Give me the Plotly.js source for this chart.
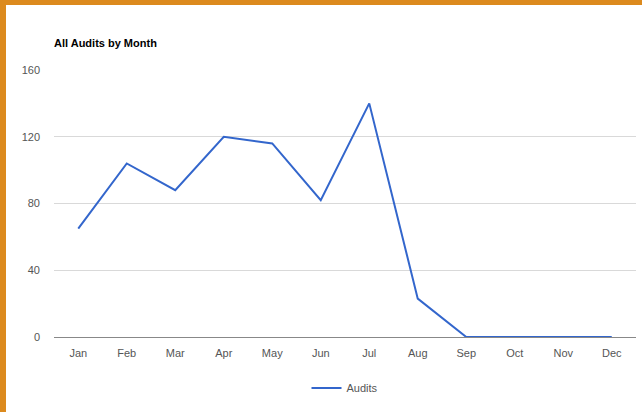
<!DOCTYPE html>
<html>
<head>
<meta charset="utf-8">
<script src="https://cdn.plot.ly/plotly-3.0.1.min.js"></script>
<style>
html,body{margin:0;padding:0;background:#fff;}
#wrap{position:relative;width:642px;height:412px;background:#fff;overflow:hidden;}
#bl{position:absolute;left:0;top:0;width:6px;height:412px;background:#dc8a1e;}
#bt{position:absolute;left:0;top:0;width:642px;height:5px;background:#dc8a1e;}
#chart{position:absolute;left:0;top:0;width:642px;height:412px;}
</style>
</head>
<body>
<div id="wrap">
<div id="chart"></div>
<div id="bl"></div>
<div id="bt"></div>
</div>
<script>
const months = ["Jan","Feb","Mar","Apr","May","Jun","Jul","Aug","Sep","Oct","Nov","Dec"];
const audits = [65, 104, 88, 120, 116, 82, 140, 23, 0, 0, 0, 0];
const yTicks = [0, 40, 80, 120, 160];

const trace = {
  x: months,
  y: audits,
  type: "scatter",
  mode: "lines",
  name: "Audits",
  line: {color: "#3366cc", width: 2}
};

const layout = {
  width: 642,
  height: 412,
  paper_bgcolor: "rgba(0,0,0,0)",
  plot_bgcolor: "rgba(0,0,0,0)",
  margin: {l: 54, r: 6, t: 70, b: 75, pad: 0},
  font: {family: "Liberation Sans, Arial, sans-serif", size: 11, color: "#555"},
  title: {
    text: "<b>All Audits by Month</b>",
    font: {family: "Liberation Sans, Arial, sans-serif", size: 11, color: "#000"},
    x: 54/642, xref: "container", xanchor: "left",
    y: 1 - 43/412, yref: "container", yanchor: "middle"
  },
  xaxis: {
    type: "category",
    range: [-0.5, 11.5],
    showgrid: false,
    zeroline: false,
    showline: false,
    ticks: "",
    ticklabelstandoff: 8,
    tickfont: {size: 11, color: "#555"},
    fixedrange: true
  },
  yaxis: {
    range: [0, 160],
    tickvals: yTicks,
    ticktext: yTicks.map(String),
    showgrid: true,
    gridcolor: "#d9d9d9",
    gridwidth: 1,
    zeroline: true,
    zerolinecolor: "#888",
    zerolinewidth: 1,
    showline: false,
    ticks: "",
    ticklabelstandoff: 13,
    tickfont: {size: 11, color: "#555"},
    fixedrange: true
  },
  showlegend: true,
  legend: {
    orientation: "h",
    x: 0.5, xanchor: "center",
    y: -(388-337)/267, yanchor: "middle",
    font: {size: 11, color: "#555"},
    bgcolor: "rgba(0,0,0,0)"
  }
};

Plotly.newPlot("chart", [trace], layout, {displayModeBar: false, staticPlot: true});
</script>
</body>
</html>
